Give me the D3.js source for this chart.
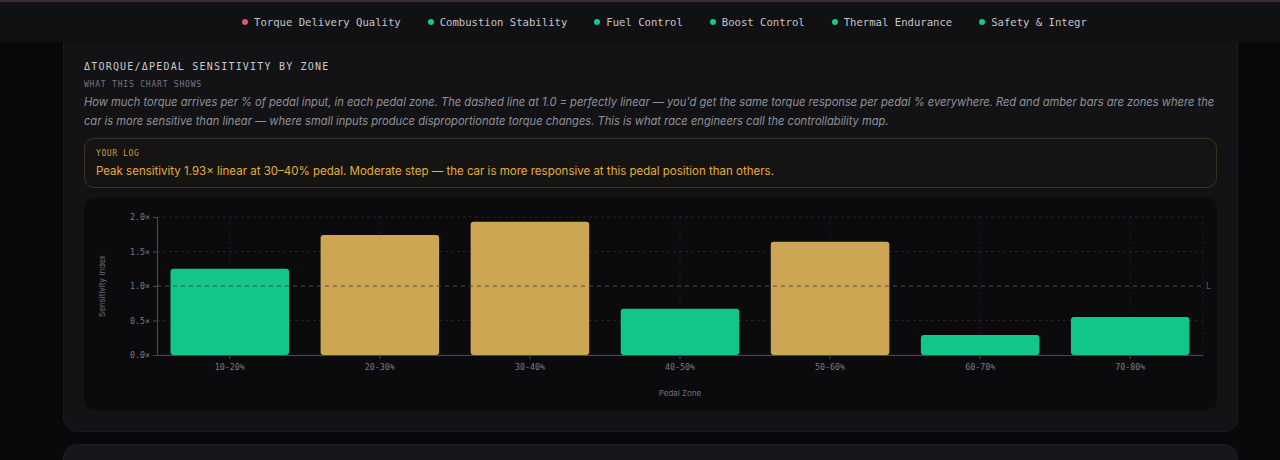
<!DOCTYPE html>
<html>
<head>
<meta charset="utf-8">
<script src="https://cdn.jsdelivr.net/npm/d3@7/dist/d3.min.js"></script>
<style>
  html, body { margin: 0; padding: 0; width: 1280px; height: 460px; overflow: hidden; background: #09090c; }
  .mono { font-family: "DejaVu Sans Mono", monospace; }
  #topbar { position: absolute; left: 0; top: 0; width: 1280px; height: 42px; background: #111114; border-top: 2px solid #3a2d3b; box-sizing: border-box; z-index: 2; }
  #nav { position: absolute; left: 242px; top: 14px; display: flex; gap: 27px; font-size: 10.6px; color: #c4c4cc; white-space: nowrap; }
  #nav span.dot { display: inline-block; width: 6px; height: 6px; border-radius: 50%; margin-right: 6px; vertical-align: 1px; }
  #panel { position: absolute; left: 63px; top: 20px; width: 1175px; height: 412px; background: #131316; border: 1px solid #1c1c20; border-radius: 14px; box-sizing: border-box; }
  #panel2 { position: absolute; left: 63px; top: 444px; width: 1175px; height: 60px; background: #15171a; border: 1px solid #1c1e22; border-radius: 14px; box-sizing: border-box; }
  #title { position: absolute; left: 84px; top: 61px; font-size: 10px; letter-spacing: 1.2px; color: #c9c9cf; }
  #sub { position: absolute; left: 84px; top: 80px; font-size: 8px; letter-spacing: 0.8px; color: #76767e; }
  #desc { position: absolute; left: 84px; top: 93px; font-family: Inter, sans-serif; font-style: italic; font-size: 11.15px; line-height: 19px; color: #909098; white-space: nowrap; }
  #log { position: absolute; left: 84px; top: 138px; width: 1133px; height: 50px; border: 1px solid #3a3222; border-radius: 10px; background: #151413; box-sizing: border-box; }
  #logtag { position: absolute; left: 11px; top: 10px; font-size: 8px; letter-spacing: 0.6px; color: #c99a3a; }
  #logtxt { position: absolute; left: 11px; top: 25px; font-family: Inter, sans-serif; font-size: 11.5px; color: #e2ae3c; white-space: nowrap; }
  #chartbox { position: absolute; left: 84px; top: 198px; width: 1133px; height: 212px; background: #0b0b0e; border-radius: 10px; }
</style>
</head>
<body>
<div id="topbar"><div id="nav" class="mono"></div></div>
<div id="panel"></div>
<div id="panel2"></div>
<div id="title" class="mono">ΔTORQUE/ΔPEDAL SENSITIVITY BY ZONE</div>
<div id="sub" class="mono">WHAT THIS CHART SHOWS</div>
<div id="desc">How much torque arrives per % of pedal input, in each pedal zone. The dashed line at 1.0 = perfectly linear — you'd get the same torque response per pedal % everywhere. Red and amber bars are zones where the<br>car is more sensitive than linear — where small inputs produce disproportionate torque changes. This is what race engineers call the controllability map.</div>
<div id="log"><div id="logtag" class="mono">YOUR LOG</div><div id="logtxt">Peak sensitivity 1.93× linear at 30–40% pedal. Moderate step — the car is more responsive at this pedal position than others.</div></div>
<div id="chartbox"></div>
<script>
// nav tabs
var navLabels = ["Torque Delivery Quality", "Combustion Stability", "Fuel Control", "Boost Control", "Thermal Endurance", "Safety & Integr"];
var navColors = ["#e0566a", "#13c98d", "#13c98d", "#13c98d", "#13c98d", "#13c98d"];

// chart data
var zones = ["10-20%", "20-30%", "30-40%", "40-50%", "50-60%", "60-70%", "70-80%"];
var sensitivity = [1.25, 1.74, 1.93, 0.67, 1.64, 0.29, 0.55];
var yTicks = [0, 0.5, 1.0, 1.5, 2.0];

var color_green = "#12c689";
var color_amber = "#cca652";
var font_mono = "DejaVu Sans Mono, monospace";

d3.select("#nav").selectAll("div")
  .data(navLabels)
  .enter()
  .append("div")
  .html(function(d, i) {
    return '<span class="dot" style="background:' + navColors[i] + '"></span>' + d;
  });

var width = 1133;
var height = 212;
var margin = {top: 19, right: 14, bottom: 55, left: 73};

var svg = d3.select("#chartbox")
  .append("svg")
  .attr("width", width)
  .attr("height", height);

var x = d3.scaleBand()
  .domain(zones)
  .range([margin.left, width - margin.right])
  .paddingInner(0.21)
  .paddingOuter(0.09);

var y = d3.scaleLinear()
  .domain([0, 2])
  .range([height - margin.bottom, margin.top]);

//grid
var grid = svg.append("g");
grid.selectAll("line.h")
  .data(yTicks.filter(function(d) { return d !== 0 && d !== 1; }))
  .enter()
  .append("line")
  .attr("x1", margin.left)
  .attr("x2", width - margin.right)
  .attr("y1", function(d) { return y(d); })
  .attr("y2", function(d) { return y(d); })
  .style("stroke", "#222228")
  .style("stroke-dasharray", "3,3");

grid.selectAll("line.v")
  .data(zones)
  .enter()
  .append("line")
  .attr("x1", function(d) { return x(d) + x.bandwidth() / 2; })
  .attr("x2", function(d) { return x(d) + x.bandwidth() / 2; })
  .attr("y1", y(2))
  .attr("y2", y(0))
  .style("stroke", "#1e1e24")
  .style("stroke-dasharray", "2,3");

grid.append("line")
  .attr("x1", width - margin.right)
  .attr("x2", width - margin.right)
  .attr("y1", y(2))
  .attr("y2", y(0))
  .style("stroke", "#1e1e24")
  .style("stroke-dasharray", "2,3");

//bars
svg.append("g")
  .selectAll("rect")
  .data(sensitivity)
  .enter()
  .append("rect")
  .attr("x", function(d, i) { return x(zones[i]); })
  .attr("width", x.bandwidth())
  .attr("y", function(d) { return y(d); })
  .attr("height", function(d) { return y(0) - y(d); })
  .attr("rx", 3)
  .style("fill", function(d) { return d > 1.5 ? color_amber : color_green; });

//linear reference
svg.append("line")
  .attr("x1", margin.left)
  .attr("x2", width - margin.right)
  .attr("y1", y(1))
  .attr("y2", y(1))
  .style("stroke", "#45534f")
  .style("stroke-dasharray", "4,4");

svg.append("text")
  .attr("x", width - margin.right + 3)
  .attr("y", y(1) + 3)
  .style("font-family", font_mono)
  .style("font-size", "8px")
  .style("fill", "#5c5c64")
  .text("L");

//axes
var yAxis = svg.append("g")
  .attr("transform", "translate(" + margin.left + ",0)")
  .call(d3.axisLeft(y).tickValues(yTicks).tickSize(4).tickFormat(function(d) { return d3.format(".1f")(d) + "×"; }));

var xAxis = svg.append("g")
  .attr("transform", "translate(0," + y(0) + ")")
  .call(d3.axisBottom(x).tickSize(4).tickSizeOuter(0));

[yAxis, xAxis].forEach(function(a) {
  a.select(".domain").style("stroke", "#4a4a52");
  a.selectAll(".tick line").style("stroke", "#4a4a52");
  a.selectAll(".tick text")
    .style("font-family", font_mono)
    .style("font-size", "8.3px")
    .style("fill", "#7a7a82");
});
xAxis.selectAll(".tick text").attr("dy", "1.0em");

//axis titles
svg.append("text")
  .attr("transform", "translate(" + 21 + "," + ((margin.top + y(0)) / 2) + ") rotate(-90)")
  .attr("text-anchor", "middle")
  .style("font-family", "Inter, sans-serif")
  .style("font-size", "8px")
  .style("fill", "#6e6e76")
  .text("Sensitivity Index");

svg.append("text")
  .attr("x", (margin.left + width - margin.right) / 2)
  .attr("y", 198)
  .attr("text-anchor", "middle")
  .style("font-family", "Inter, sans-serif")
  .style("font-size", "8px")
  .style("fill", "#6e6e76")
  .text("Pedal Zone");
</script>
</body>
</html>
